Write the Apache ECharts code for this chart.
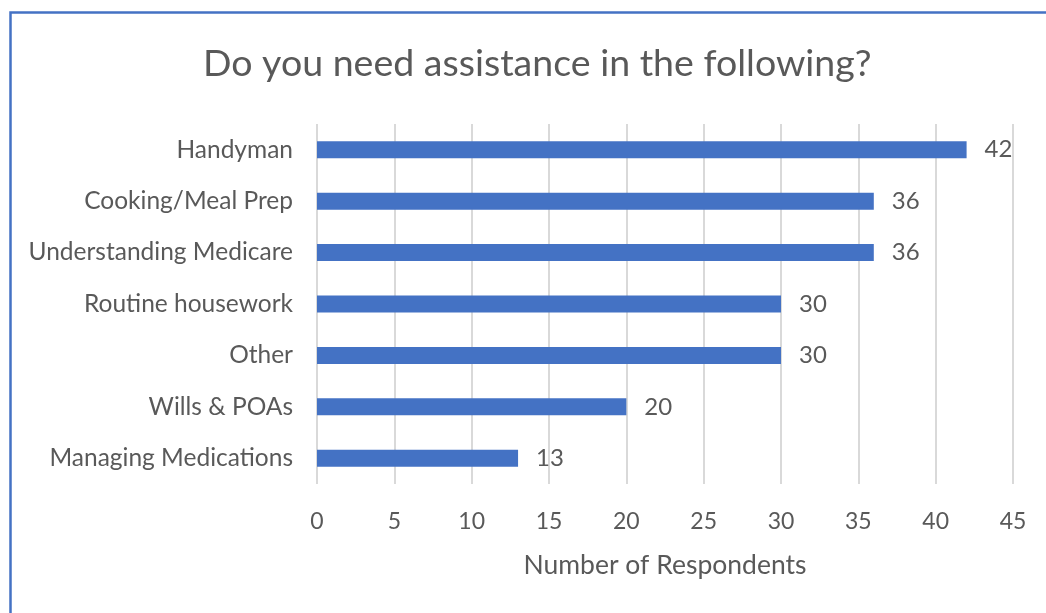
<!DOCTYPE html>
<html><head><meta charset="utf-8">
<script src="https://cdn.jsdelivr.net/npm/echarts@6/dist/echarts.min.js"></script>
<style>html,body{margin:0;padding:0;background:#fff;}#c{width:1046px;height:613px;}</style>
</head><body><div id="c"></div>
<script>
const categories = ['Handyman','Cooking/Meal Prep','Understanding Medicare','Routine housework','Other','Wills & POAs','Managing Medications'];
const values = [42,36,36,30,30,20,13];
const titleText = 'Do you need assistance in the following?';
const axisName = 'Number of Respondents';
const FONT = 'Lato';
const chart = echarts.init(document.getElementById('c'));
chart.setOption({
  animation:false,
  backgroundColor:'#fff',
  graphic:[{type:'rect',left:8,top:10,shape:{width:1200,height:800},style:{fill:'none',stroke:'#4472C4',lineWidth:2.5},silent:true}],
  title:{text:titleText,left:198,top:40,textStyle:{fontFamily:FONT,fontWeight:'normal',fontSize:37.5,color:'#595959'}},
  grid:{left:317,right:33,top:124,bottom:129},
  xAxis:{type:'value',min:0,max:45,interval:5,
    axisLine:{show:false},axisTick:{show:false},
    splitLine:{show:true,lineStyle:{color:'#D9D9D9',width:2}},
    axisLabel:{color:'#595959',fontFamily:FONT,fontSize:23,margin:26},
    name:axisName,nameLocation:'middle',nameGap:68,
    nameTextStyle:{color:'#595959',fontFamily:FONT,fontSize:26.5}},
  yAxis:{type:'category',data:categories,inverse:true,
    axisLine:{show:false},axisTick:{show:false},splitLine:{show:false},
    axisLabel:{color:'#595959',fontFamily:FONT,fontSize:24.5,margin:24}},
  series:[{type:'bar',data:values,barWidth:17,itemStyle:{color:'#4472C4'},
    label:{show:true,position:'right',distance:18,color:'#595959',fontFamily:FONT,fontSize:24}}]
});
</script></body></html>
